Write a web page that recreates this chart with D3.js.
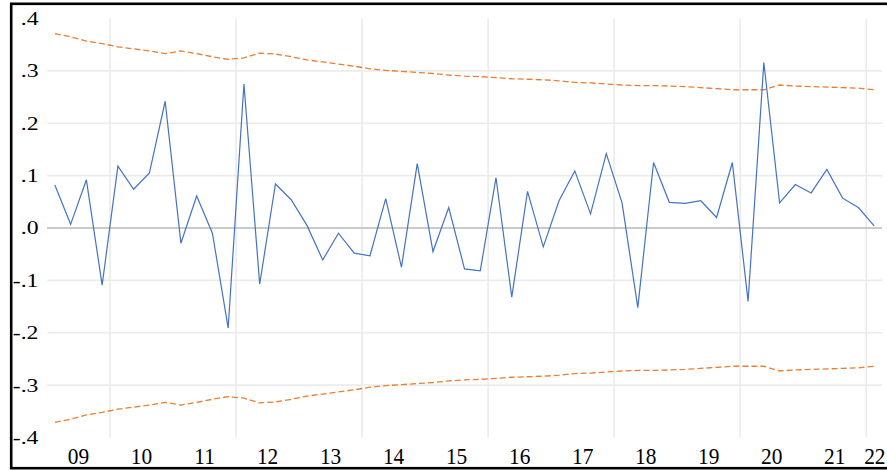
<!DOCTYPE html>
<html>
<head>
<meta charset="utf-8">
<script src="https://cdn.jsdelivr.net/npm/d3@7"></script>
<style>
  html, body { margin: 0; padding: 0; background: #fff; }
  svg { display: block; }
</style>
</head>
<body>
<svg id="chart" width="887" height="470"></svg>
<script>
// Quarterly periods 2009Q1 .. 2022Q1
const startYear = 2009;
const quarters = d3.range(53).map(i => ({ year: startYear + Math.floor(i / 4), q: (i % 4) + 1 }));

// Blue series
const seriesValues = [
  0.082, 0.007, 0.092, -0.109, 0.118, 0.074, 0.105, 0.242, -0.029, 0.061,
  -0.010, -0.191, 0.275, -0.107, 0.084, 0.054, 0.005, -0.061, -0.010, -0.048,
  -0.053, 0.056, -0.075, 0.123, -0.045, 0.039, -0.078, -0.082, 0.096, -0.132,
  0.070, -0.036, 0.052, 0.109, 0.027, 0.142, 0.048, -0.152, 0.125, 0.049,
  0.047, 0.052, 0.020, 0.125, -0.140, 0.316, 0.048, 0.083, 0.067, 0.112,
  0.057, 0.039, 0.004
];

// Upper and lower bands (orange dashed)
const upperBand = [
  0.371, 0.365, 0.357, 0.352, 0.346, 0.342, 0.338, 0.333, 0.338, 0.333,
  0.327, 0.322, 0.325, 0.334, 0.332, 0.327, 0.321, 0.317, 0.313, 0.309,
  0.304, 0.301, 0.299, 0.297, 0.295, 0.292, 0.290, 0.289, 0.287, 0.285,
  0.284, 0.283, 0.281, 0.278, 0.277, 0.275, 0.273, 0.272, 0.272, 0.271,
  0.270, 0.268, 0.266, 0.264, 0.264, 0.264, 0.273, 0.271, 0.270, 0.269,
  0.268, 0.267, 0.264
];
const lowerBand = [
  -0.371, -0.365, -0.357, -0.352, -0.346, -0.342, -0.338, -0.333, -0.338, -0.333,
  -0.327, -0.322, -0.325, -0.334, -0.332, -0.327, -0.321, -0.317, -0.313, -0.309,
  -0.304, -0.301, -0.299, -0.297, -0.295, -0.292, -0.290, -0.289, -0.287, -0.285,
  -0.284, -0.283, -0.281, -0.278, -0.277, -0.275, -0.273, -0.272, -0.272, -0.271,
  -0.270, -0.268, -0.266, -0.264, -0.264, -0.264, -0.273, -0.271, -0.270, -0.269,
  -0.268, -0.267, -0.264
];

const yTicks = [0.4, 0.3, 0.2, 0.1, 0.0, -0.1, -0.2, -0.3, -0.4];
const yTickLabels = [".4", ".3", ".2", ".1", ".0", "-.1", "-.2", "-.3", "-.4"];
const yGridTicks = [0.3, 0.2, 0.1, -0.1, -0.2, -0.3];
const xYears = d3.range(2009, 2023);
const xYearLabels = ["09", "10", "11", "12", "13", "14", "15", "16", "17", "18", "19", "20", "21", "22"];
const xGridYears = [2010, 2012, 2014, 2016, 2018, 2020, 2022];

const svg = d3.select("#chart");
const W = 887;
const plotLeft = 47, plotRight = 882, plotTop = 18.5, plotBottom = 437.5;

const x = d3.scaleLinear().domain([2009, 2022.25]).range([plotLeft, plotRight]);
const y = d3.scaleLinear().domain([-0.4, 0.4]).range([plotBottom, plotTop]);
const tPos = d => d.year + (d.q - 1) / 4 + 0.125;

// Frame
svg.append("rect")
  .attr("x", 11.2).attr("y", 3.8)
  .attr("width", 885).attr("height", 464.4)
  .attr("fill", "none").attr("stroke", "#000").attr("stroke-width", 2.6);

// Horizontal gridlines
svg.append("g").selectAll("line").data(yGridTicks).join("line")
  .attr("x1", plotLeft).attr("x2", plotRight)
  .attr("y1", d => y(d)).attr("y2", d => y(d))
  .attr("stroke", "#ebebeb").attr("stroke-width", 1.6);

// Vertical gridlines
svg.append("g").selectAll("line").data(xGridYears).join("line")
  .attr("x1", d => x(d)).attr("x2", d => x(d))
  .attr("y1", plotTop).attr("y2", plotBottom)
  .attr("stroke", "#ebebeb").attr("stroke-width", 1.6);

// Zero line
svg.append("line")
  .attr("x1", plotLeft).attr("x2", plotRight)
  .attr("y1", y(0)).attr("y2", y(0))
  .attr("stroke", "#b8b8b8").attr("stroke-width", 1.3);

// Bands
const line = d3.line().x((v, i) => x(tPos(quarters[i]))).y(v => y(v));
[upperBand, lowerBand].forEach(b => {
  svg.append("path").attr("d", line(b))
    .attr("fill", "none").attr("stroke", "#ED7D31")
    .attr("stroke-width", 1.3).attr("stroke-dasharray", "6,3");
});

// Series
svg.append("path").attr("d", line(seriesValues))
  .attr("fill", "none").attr("stroke", "#4472C4")
  .attr("stroke-width", 1.2).attr("stroke-linejoin", "miter");

// Y axis labels
svg.append("g").selectAll("text").data(yTicks).join("text")
  .attr("transform", d => `translate(38.5,${y(d) + 6.4}) scale(1.25,1)`)
  .attr("text-anchor", "end")
  .attr("font-family", "'Liberation Serif', 'Times New Roman', serif")
  .attr("font-size", 19)
  .attr("fill", "#000")
  .text((d, i) => yTickLabels[i]);

// X axis labels (last one kept inside the picture)
svg.append("g").selectAll("text").data(xYears).join("text")
  .attr("transform", d => {
    const cx = x(d + 0.5);
    return cx > plotRight
      ? `translate(${W - 1.5},464) scale(0.93,1)`
      : `translate(${cx},464) scale(0.93,1)`;
  })
  .attr("text-anchor", d => x(d + 0.5) > plotRight ? "end" : "middle")
  .attr("font-family", "'Liberation Serif', 'Times New Roman', serif")
  .attr("font-size", 23)
  .attr("fill", "#000")
  .text((d, i) => xYearLabels[i]);
</script>
</body>
</html>
